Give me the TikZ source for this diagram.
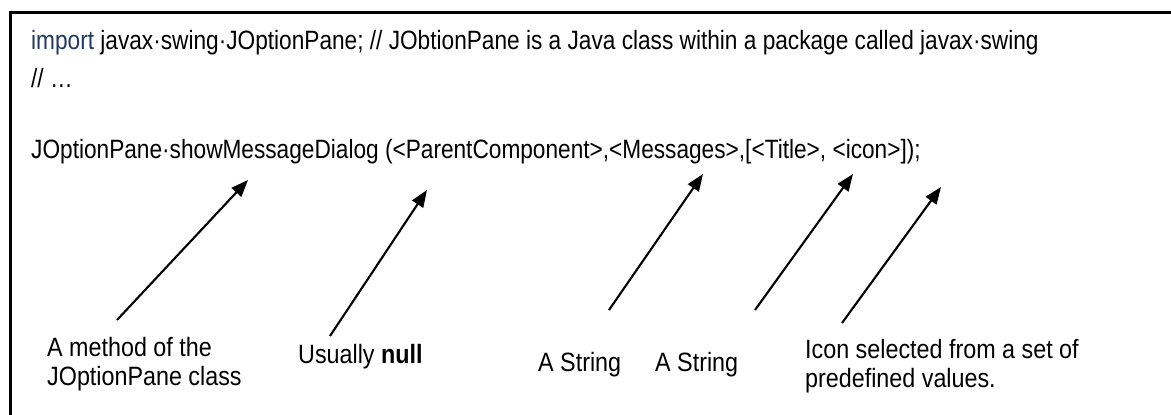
\documentclass[tikz,border=0pt]{standalone}
\usepackage{fontspec}
\setmainfont{Liberation Sans}
\newfontfamily\codefont[FakeStretch=0.855]{Liberation Sans}
\newfontfamily\labelfont[FakeStretch=0.88]{Liberation Sans}
\usetikzlibrary{arrows.meta}
\definecolor{kwblue}{RGB}{31,56,100}
\tikzset{
  code/.style={anchor=base west, inner sep=0pt, font=\codefont\fontsize{26.5}{30}\selectfont},
  lbl/.style={anchor=base west, inner sep=0pt, align=left, font=\labelfont\fontsize{26.5}{29}\selectfont},
  pointer/.style={line width=2.1pt, -{Triangle[length=17pt,width=13pt]}},
  frame/.style={line width=3pt}
}
\begin{document}
\begin{tikzpicture}[x=1pt,y=-1pt]
\useasboundingbox (0,0) rectangle (1171,415);
% frame (top and left edges visible)
\coordinate (ftl) at (10.5,12);
\coordinate (ftr) at (1172,12);
\coordinate (fbl) at (10.5,416);
\draw[frame] (ftr) -- (ftl) -- (fbl);
% code lines
\node[code] (l1) at (31,49) {\textcolor{kwblue}{import} javax·swing·JOptionPane; // JObtionPane is a Java class within a package called javax·swing};
\node[code] (l2) at (31,87) {// \dots};
\node[code] (l3) at (31,158) {JOptionPane·showMessageDialog (<ParentComponent>,<Messages>,[<Title>, <icon>]);};
% labels (base = baseline of last line)
\node[lbl] (m) at (47,385) {A method of the\\JOptionPane class};
\node[lbl] (n) at (298,363) {Usually \textbf{null}};
\node[lbl] (s1) at (538,371) {A String};
\node[lbl] (s2) at (655,371) {A String};
\node[lbl] (ic) at (805,387) {Icon selected from a set of\\predefined values.};
% arrow ends
\coordinate (t1) at (117,320);
\coordinate (h1) at (248,180);
\coordinate (t2) at (330,336);
\coordinate (h2) at (427,190);
\coordinate (t3) at (609,310);
\coordinate (h3) at (703,174);
\coordinate (t4) at (755,310);
\coordinate (h4) at (853,174);
\coordinate (t5) at (842,323);
\coordinate (h5) at (941,187);
\draw[pointer] (t1) -- (h1);
\draw[pointer] (t2) -- (h2);
\draw[pointer] (t3) -- (h3);
\draw[pointer] (t4) -- (h4);
\draw[pointer] (t5) -- (h5);
\end{tikzpicture}
\end{document}
